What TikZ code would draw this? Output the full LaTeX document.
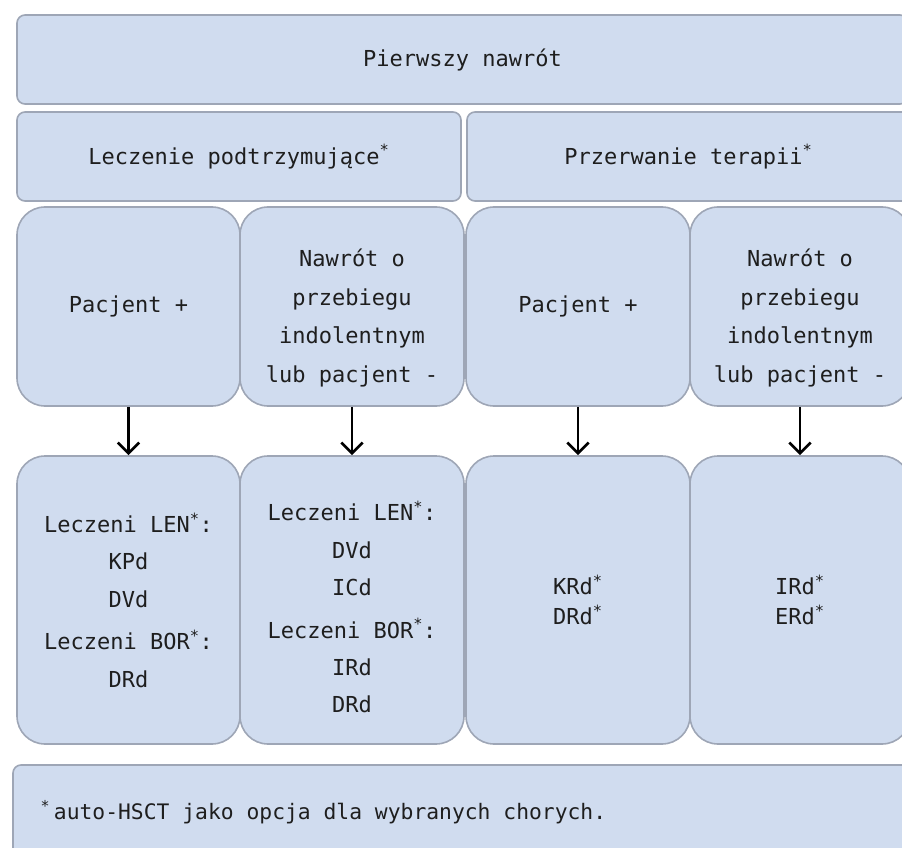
\documentclass[tikz,border=0pt]{standalone}
\usepackage{fontspec}
\setmainfont{DejaVu Sans Mono}
\usetikzlibrary{arrows.meta}
\definecolor{boxfill}{RGB}{208,220,239}
\definecolor{boxline}{RGB}{158,166,182}
\definecolor{ink}{RGB}{30,30,30}

\begin{document}
\begin{tikzpicture}[x=0.75pt,y=-0.75pt]
	\tikzstyle{every node}=[text=ink,font=\fontsize{16.5}{29}\selectfont,align=center]
	\tikzstyle{box}=[draw=boxline,fill=boxfill,line width=1.2pt,rounded corners=6pt]
	\tikzstyle{tall}=[box,rounded corners=21pt,minimum height=149.25pt]
	\tikzstyle{low}=[tall,minimum height=216pt,font=\fontsize{16.5}{28}\selectfont]
	\tikzstyle{arr}=[-{Straight Barb[length=8pt,width=16pt,line width=2pt]},line width=2pt,black]
	\useasboundingbox (0,0) rectangle (902,848);
	\clip (0,0) rectangle (902,848);
	% naglowki
	\node[box,minimum width=668.25pt,minimum height=66.75pt] (nawrot) at (462.5,59.5) {Pierwszy nawrót};
	\node[box,minimum width=333pt,minimum height=66.75pt] (podtrz) at (239,156.5) {Leczenie podtrzymujące\textsuperscript{*}};
	\node[box,minimum width=332.25pt,minimum height=66.75pt] (przerw) at (688.5,156.5) {Przerwanie terapii\textsuperscript{*}};
	% pacjenci
	\node[tall,minimum width=167.25pt] (p1) at (128.5,306.5) {Pacjent +};
	\node[tall,minimum width=168pt] (p2) at (352,306.5) {};
	\node[tall,minimum width=168pt] (p3) at (578,306.5) {Pacjent +};
	\node[tall,minimum width=165pt] (p4) at (800,306.5) {};
	\node (p2t) at (352,318) {Nawrót o\\przebiegu\\indolentnym\\lub pacjent -};
	\node (p4t) at (800,318) {Nawrót o\\przebiegu\\indolentnym\\lub pacjent -};
	% terapie
	\node[low,minimum width=167.25pt] (t1) at (128.5,600) {Leczeni LEN\textsuperscript{*}:\\KPd\\DVd\\[4pt]Leczeni BOR\textsuperscript{*}:\\DRd};
	\node[low,minimum width=168pt] (t2) at (352,600) {};
	\node[low,minimum width=168pt] (t3) at (578,600) {KRd\textsuperscript{*}\\[-5.5pt]DRd\textsuperscript{*}};
	\node[low,minimum width=165pt] (t4) at (800,600) {IRd\textsuperscript{*}\\[-5.5pt]ERd\textsuperscript{*}};
	\node[font=\fontsize{16.5}{28}\selectfont] (t2t) at (352,607) {Leczeni LEN\textsuperscript{*}:\\DVd\\ICd\\[4pt]Leczeni BOR\textsuperscript{*}:\\IRd\\DRd};
	\draw[arr] (p1) -- (t1);
	\draw[arr] (p2) -- (t2);
	\draw[arr] (p3) -- (t3);
	\draw[arr] (p4) -- (t4);
	% przypis
	\node[box,minimum width=672.75pt,minimum height=71.25pt] (uwaga) at (461.5,812.5) {};
	\node[anchor=west,font=\fontsize{16}{28}\selectfont] (uwagat) at (36,812) {\textsuperscript{*}\,auto-HSCT jako opcja dla wybranych chorych.};
\end{tikzpicture}
\end{document}
